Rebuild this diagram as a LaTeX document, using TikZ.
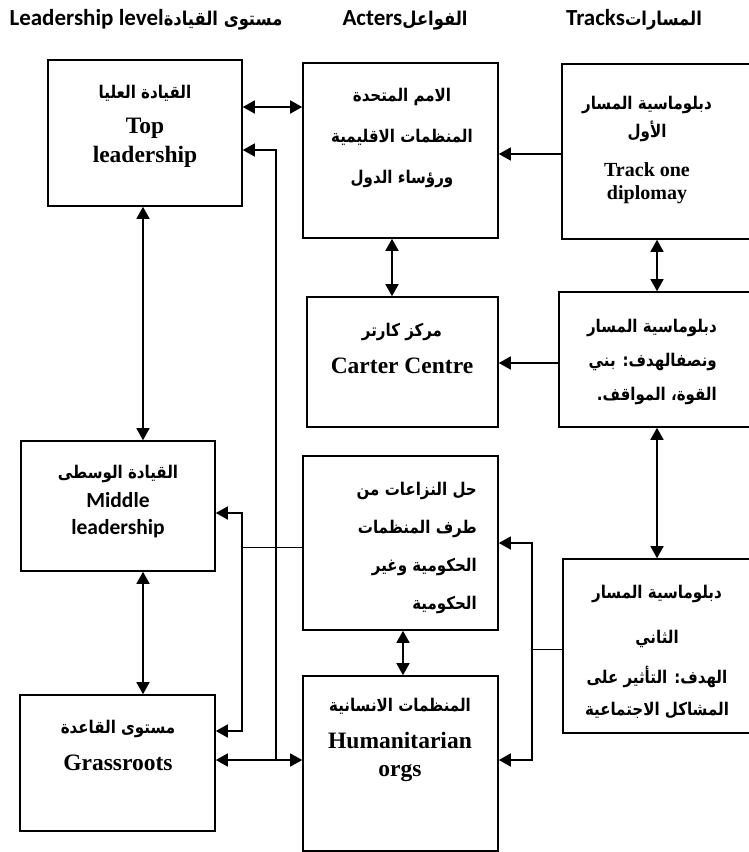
\documentclass[tikz,border=0pt]{standalone}
\usepackage{fontspec}
\setmainfont{Liberation Serif}
\setsansfont{Carlito}
\newfontfamily\arabicfont[Script=Arabic, FakeStretch=0.86]{DejaVu Sans}
\TeXXeTstate=1
\usetikzlibrary{arrows.meta}
\newcommand{\artxt}[1]{{\arabicfont\bfseries\beginR #1\endR}}
\newcommand{\entxt}[1]{{\fontsize{23.5}{26}\selectfont #1}}
\tikzstyle{box}=[draw, rectangle, line width=1.6pt, inner sep=0pt]
\tikzstyle{txt}=[align=center, inner sep=0pt, font=\bfseries\fontsize{17.5}{29}\selectfont]
\tikzstyle{head}=[inner sep=0pt, font=\bfseries\fontsize{23}{26}\selectfont]
\tikzstyle{link}=[line width=1.5pt, -{Triangle[length=12pt,width=13pt]}]
\tikzstyle{both}=[line width=1.5pt, {Triangle[length=12pt,width=13pt]}-{Triangle[length=12pt,width=13pt]}]
\tikzstyle{bus}=[line width=0.9pt]

\begin{document}
\begin{tikzpicture}[x=1pt, y=-1pt]
    \useasboundingbox (0,0) rectangle (748,852);
    % column heads
    \node[head] (hlead) at (146,20) {{\sffamily Leadership level}{\fontsize{19}{20}\selectfont\artxt{مستوى القيادة}}};
    \node[head] (hact) at (405,20) {{\sffamily Acters}{\fontsize{19}{20}\selectfont\artxt{الفواعل}}};
    \node[head] (htrack) at (634,20) {{\sffamily Tracks}{\fontsize{19}{20}\selectfont\artxt{المسارات}}};
    % boxes
    \node[box, minimum width=194pt, minimum height=146pt] (top) at (145,133) {};
    \node[box, minimum width=195pt, minimum height=175pt] (un) at (400.5,150.5) {};
    \node[box, minimum width=190pt, minimum height=175pt] (tone) at (657,151.5) {};
    \node[box, minimum width=191pt, minimum height=130pt] (carter) at (402.5,362) {};
    \node[box, minimum width=193pt, minimum height=135pt] (thalf) at (655.5,359.5) {};
    \node[box, minimum width=194pt, minimum height=130pt] (mid) at (118,506) {};
    \node[box, minimum width=195pt, minimum height=174pt] (conf) at (400.5,543) {};
    \node[box, minimum width=189pt, minimum height=174pt] (ttwo) at (657.5,646) {};
    \node[box, minimum width=195pt, minimum height=136pt] (grass) at (117.5,763) {};
    \node[box, minimum width=195pt, minimum height=175pt] (hum) at (400.5,763.5) {};
    % box texts
    \node[txt] (top-t) at (145,126) {\artxt{القيادة العليا}\\[6pt] \entxt{Top}\\ \entxt{leadership}};
    \node[txt, font=\bfseries\fontsize{17.5}{41}\selectfont] (un-t) at (402,138) {\artxt{الامم المتحدة}\\ \artxt{المنظمات الاقليمية}\\ \artxt{ورؤساء الدول}};
    \node[txt, font=\bfseries\fontsize{17.5}{23}\selectfont] (tone-t) at (647,150) {\artxt{دبلوماسية المسار}\\[5pt] \artxt{الأول}\\[16pt] {\fontsize{20}{22}\selectfont Track one}\\ {\fontsize{20}{22}\selectfont diplomay}};
    \node[txt, align=right, anchor=east, font=\bfseries\fontsize{17.5}{34}\selectfont] (thalf-t) at (717,362) {\artxt{دبلوماسية المسار}\\ \artxt{ونصفالهدف: بني}\\ \artxt{القوة، المواقف.}};
    \node[txt, font=\bfseries\fontsize{17.5}{37}\selectfont] (carter-t) at (402,348) {\artxt{مركز كارتر}\\ \entxt{Carter Centre}};
    \node[txt, font=\bfseries\fontsize{17.5}{27}\selectfont] (mid-t) at (118,502) {\artxt{القيادة الوسطى}\\[2pt] {\sffamily\fontsize{21.5}{24}\selectfont Middle}\\ {\sffamily\fontsize{21.5}{24}\selectfont leadership}};
    \node[txt, align=right, anchor=east, font=\bfseries\fontsize{17.5}{38}\selectfont] (conf-t) at (477,548) {\artxt{حل النزاعات من}\\ \artxt{طرف المنظمات}\\ \artxt{الحكومية وغير}\\ \artxt{الحكومية}};
    \node[txt, font=\bfseries\fontsize{17.5}{32}\selectfont] (ttwo-t) at (657,652) {\artxt{دبلوماسية المسار}\\[13pt] \artxt{الثاني}\\[8pt] \artxt{الهدف: التأثير على}\\ \artxt{المشاكل الاجتماعية}};
    \node[txt, font=\bfseries\fontsize{17.5}{37}\selectfont] (grass-t) at (118,745) {\artxt{مستوى القاعدة}\\ \entxt{Grassroots}};
    \node[txt, font=\bfseries\fontsize{17.5}{28}\selectfont] (hum-t) at (400,740) {\artxt{المنظمات الانسانية}\\[9pt] \entxt{Humanitarian}\\ \entxt{orgs}};
    % links
    \draw[both] (top.east |- 0,107) -- (un.west |- 0,107);
    \draw[link] (tone.west |- 0,154) -- (un.east |- 0,154);
    \draw[link] (thalf.west |- 0,363) -- (carter.east |- 0,363);
    \draw[both] (un.south -| 392,0) -- (carter.north -| 392,0);
    \draw[both] (tone.south) -- (tone.south |- thalf.north);
    \draw[both] (thalf.south -| tone.south) -- (ttwo.north -| tone.south);
    \draw[both] (top.south -| 143,0) -- (mid.north -| 143,0);
    \draw[both] (mid.south -| 143,0) -- (grass.north -| 143,0);
    \draw[both] (conf.south -| 403,0) -- (hum.north -| 403,0);
    % shared lines
    \coordinate (hub) at (276,760);
    \draw[both] (grass.east |- hub) -- (hum.west |- hub);
    \draw[link] (hub) |- (top.east |- 0,150);
    \coordinate (lbus) at (242,547);
    \draw[bus] (conf.west |- lbus) -- (lbus);
    \draw[link] (lbus) |- (mid.east |- 0,513);
    \draw[link] (lbus) |- (grass.east |- 0,731);
    \coordinate (rbus) at (532,649);
    \draw[bus] (ttwo.west |- rbus) -- (rbus);
    \draw[link] (rbus) |- (conf.east |- 0,543);
    \draw[link] (rbus) |- (hum.east |- 0,760);
\end{tikzpicture}
\end{document}
